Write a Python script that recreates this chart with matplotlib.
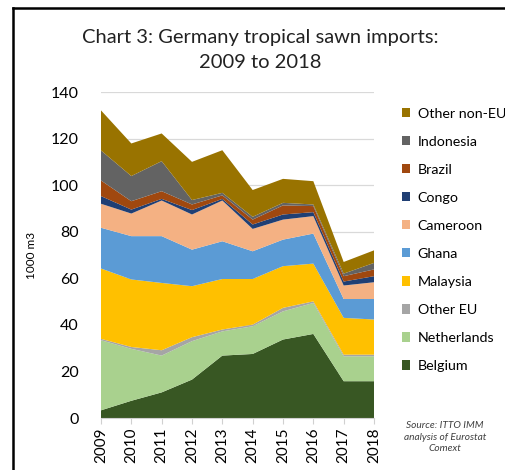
import numpy as np
import matplotlib.pyplot as plt
from matplotlib.lines import Line2D
from matplotlib.patches import Patch

plt.rcParams['font.family'] = ['Lato', 'DejaVu Sans']

years = [2009, 2010, 2011, 2012, 2013, 2014, 2015, 2016, 2017, 2018]

# 1000 m3, bottom to top of the stack
belgium = [3.3, 7.4, 11.0, 16.5, 26.8, 27.5, 33.7, 36.1, 15.8, 15.8]
netherlands = [30.1, 22.3, 15.8, 16.5, 10.4, 11.9, 12.1, 13.3, 10.7, 10.7]
other_eu = [0.6, 0.8, 2.3, 1.7, 0.8, 0.7, 1.5, 0.7, 0.7, 0.7]
malaysia = [30.2, 29.0, 28.9, 21.9, 21.7, 19.6, 17.9, 16.2, 15.8, 15.1]
ghana = [17.5, 18.6, 20.1, 15.7, 16.2, 11.9, 11.4, 12.9, 8.1, 8.8]
cameroon = [10.3, 9.7, 15.3, 15.1, 17.5, 9.6, 8.6, 7.5, 5.8, 7.2]
congo = [3.3, 1.7, 0.7, 1.9, 0.7, 1.9, 2.2, 1.7, 1.7, 2.6]
brazil = [6.7, 3.6, 3.3, 2.4, 1.5, 2.1, 3.9, 2.6, 2.3, 2.9]
indonesia = [12.9, 10.8, 12.9, 1.9, 1.1, 1.2, 1.1, 0.7, 1.1, 2.8]
other_non_eu = [17.2, 14.0, 11.9, 16.4, 18.3, 11.5, 10.3, 10.0, 5.0, 5.4]

series = [belgium, netherlands, other_eu, malaysia, ghana, cameroon,
          congo, brazil, indonesia, other_non_eu]
labels = ["Belgium", "Netherlands", "Other EU", "Malaysia", "Ghana",
          "Cameroon", "Congo", "Brazil", "Indonesia", "Other non-EU"]
colors = ["#385723", "#a9d18e", "#a5a5a5", "#ffc000", "#5b9bd5",
          "#f4b183", "#203f74", "#a0480f", "#636363", "#997300"]

fig = plt.figure(figsize=(5.06, 4.70), dpi=100)
ax = fig.add_axes([101/506, 1-418/470, 273/506, 326/470])

ax.stackplot(years, series, colors=colors, labels=labels, linewidth=0)

ax.set_xlim(2009, 2018)
ax.set_ylim(0, 140)
ax.set_yticks(range(0, 141, 20))
ax.set_xticks(years)
ax.set_xticklabels([str(y) for y in years], rotation=90, fontsize=11)
ax.tick_params(axis='y', length=0, labelsize=11.5, pad=16)
ax.tick_params(axis='x', length=4, color='#d0d0d0', pad=3)
ax.grid(axis='y', color='#d9d9d9', linewidth=0.9)
ax.set_axisbelow(True)
for s in ['top', 'right', 'left']:
    ax.spines[s].set_visible(False)
ax.spines['bottom'].set_color('#d0d0d0')
ax.set_ylabel("1000 m3", fontsize=8.5, labelpad=10)

fig.text(0.515, 1-37/470, "Chart 3: Germany tropical sawn imports:", ha='center', va='center', fontsize=14.5, color='#222222')
fig.text(0.515, 1-62/470, "2009 to 2018", ha='center', va='center', fontsize=14.5, color='#222222')

handles = [Patch(facecolor=c, edgecolor='none') for c in colors][::-1]
fig.legend(handles, labels[::-1], loc='upper left', bbox_to_anchor=(389/506, 1-95/470),
           frameon=False, fontsize=10.3, handlelength=0.6, handleheight=0.6,
           handletextpad=0.5, labelspacing=1.12)

fig.text(445/506, 1-437/470, "Source: ITTO IMM\nanalysis of Eurostat\nComext", ha='center', va='center',
         fontsize=7.3, style='italic', color='#404040', linespacing=1.3)

# frame lines on the left and top
fig.add_artist(Line2D([13/506, 13/506], [0, 1-8/470], transform=fig.transFigure, color='black', linewidth=1.8))
fig.add_artist(Line2D([13/506, 1], [1-8/470, 1-8/470], transform=fig.transFigure, color='black', linewidth=1.8))

fig.savefig("out.png", dpi=100)
